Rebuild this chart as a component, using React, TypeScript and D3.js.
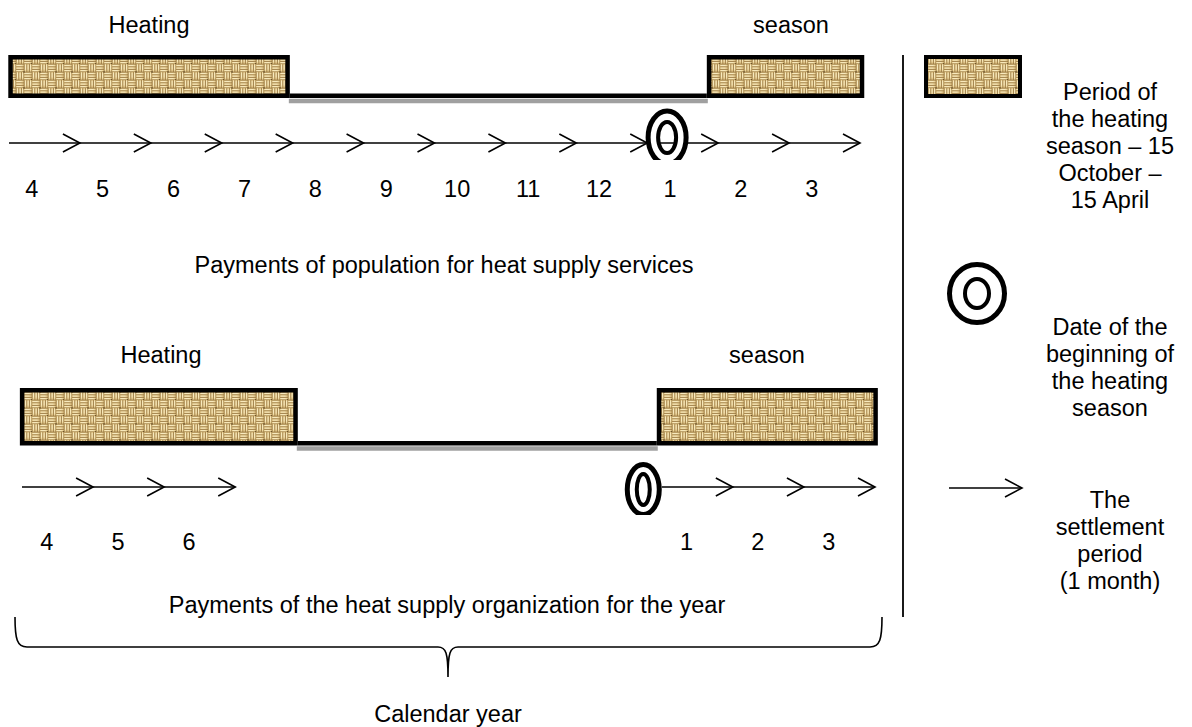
import React from 'react';
import * as d3 from 'd3';

// month labels of the settlement periods, April .. March
const months = ['4', '5', '6', '7', '8', '9', '10', '11', '12', '1', '2', '3'];

// settlement periods shown in each row (month index)
const popPeriods = [0, 1, 2, 3, 4, 5, 6, 7, 8, 9, 10, 11];
const orgPeriods = [0, 1, 2, 9, 10, 11];

// heating season spans, in month index units
const popSeason = [[-0.01, 3.96], [9.84, 12.06]];
const orgSeason = [[-0.03, 3.88], [8.93, 12.04]];

// date of the beginning of the heating season, month index
const popStart = 9.28;
const orgStart = 8.74;

const legendTexts = [
  ['Period of', 'the heating', 'season – 15', 'October –', '15 April'],
  ['Date of the', 'beginning of', 'the heating', 'season'],
  ['The', 'settlement', 'period', '(1 month)'],
];

const W = 1192;
const H = 727;
const FONT = '"Liberation Sans", Arial, sans-serif';
const FS = 23.5;

const Arrow = ({ x1, x2, y }) => (
  <g stroke="#000" fill="none" strokeWidth={1.6}>
    <line x1={x1} x2={x2} y1={y} y2={y} />
    <polyline points={`${x2 - 17},${y - 9} ${x2},${y} ${x2 - 17},${y + 9}`} />
  </g>
);

const Ring = ({ cx, cy, rx, ry, irx, iry, clipId }) => {
  const ring = `M${cx - rx},${cy}a${rx},${ry} 0 1,0 ${2 * rx},0a${rx},${ry} 0 1,0 ${-2 * rx},0Z` +
    `M${cx - irx},${cy}a${irx},${iry} 0 1,0 ${2 * irx},0a${irx},${iry} 0 1,0 ${-2 * irx},0Z`;
  return (
    <g clipPath={clipId ? `url(#${clipId})` : undefined}>
      <path d={ring} fill="#fff" fillRule="evenodd" />
      <ellipse cx={cx} cy={cy} rx={rx} ry={ry} fill="none" stroke="#000" strokeWidth={5} />
      <ellipse cx={cx} cy={cy} rx={irx} ry={iry} fill="none" stroke="#000" strokeWidth={4} />
    </g>
  );
};

const Row = ({ x, periods, season, start, r, ring }) => {
  const bw = 4.5;
  const [a, b] = season;
  return (
    <g>
      {/* off-season line with grey shadow */}
      <line x1={x(a[1]) - 1} x2={x(b[0]) + 1} y1={r.barBottom + 3} y2={r.barBottom + 3} stroke="#a0a0a0" strokeWidth={4.5} />
      <line x1={x(a[1])} x2={x(b[0])} y1={r.barBottom - bw / 2} y2={r.barBottom - bw / 2} stroke="#000" strokeWidth={bw} />
      {season.map((s, i) => (
        <rect key={i} x={x(s[0]) + bw / 2} y={r.barTop + bw / 2}
          width={x(s[1]) - x(s[0]) - bw} height={r.barBottom - r.barTop - bw}
          fill="url(#burlap)" stroke="#000" strokeWidth={bw} />
      ))}
      {periods.map(i => (
        <Arrow key={i} x1={x(i)} x2={x(i + 1)} y={r.arrowY} />
      ))}
      {periods.map(i => (
        <text key={'t' + i} x={x(i + r.labelOff)} y={r.labelY} textAnchor="middle">{months[i]}</text>
      ))}
      <Ring cx={x(start)} cy={r.ringY} {...ring} clipId={r.clip} />
      <text x={r.heatX} y={r.titleY} textAnchor="middle">Heating</text>
      <text x={r.seasonX} y={r.titleY} textAnchor="middle">season</text>
    </g>
  );
};

// basket weave strands for the burlap texture: [x, y, w, h]
const strands = [
  [0, 0.6, 7.6, 1.8], [0, 3.2, 7.6, 1.8], [0, 5.8, 7.6, 1.6],
  [8.6, 0, 1.8, 7.6], [11.2, 0, 1.8, 7.6], [13.8, 0, 1.6, 7.6],
  [0.6, 8, 1.8, 7.6], [3.2, 8, 1.8, 7.6], [5.8, 8, 1.6, 7.6],
  [8, 8.6, 7.6, 1.8], [8, 11.2, 7.6, 1.8], [8, 13.8, 7.6, 1.6],
];

export default function App() {
  const xTop = d3.scaleLinear().domain([0, 12]).range([9, 860]);
  const xBot = d3.scaleLinear().domain([0, 12]).range([22, 875]);

  const topRow = { barTop: 55, barBottom: 98, arrowY: 143, labelY: 197, labelOff: 0.32, ringY: 137.5, clip: 'clipTop', heatX: 149, seasonX: 791, titleY: 33 };
  const botRow = { barTop: 388, barBottom: 445.5, arrowY: 487, labelY: 550, labelOff: 0.35, ringY: 489.5, clip: 'clipBot', heatX: 161, seasonX: 767, titleY: 363 };

  // curly brace under the calendar year
  const brace = d3.path();
  const bl = 15, br = 882, bc = 448, bt = 617, bm = 647, bp = 677;
  brace.moveTo(bl, bt);
  brace.bezierCurveTo(bl, bm - 8, bl + 2, bm, bl + 12, bm);
  brace.lineTo(bc - 10, bm);
  brace.bezierCurveTo(bc - 2, bm, bc, bm + 6, bc, bp);
  brace.moveTo(bc, bp);
  brace.bezierCurveTo(bc, bm + 6, bc + 2, bm, bc + 10, bm);
  brace.lineTo(br - 12, bm);
  brace.bezierCurveTo(br - 2, bm, br, bm - 8, br, bt);

  const lx = 1110;
  const legendY = [100, 335, 508];

  return (
    <svg width={W} height={H} style={{ position: 'absolute', left: 0, top: 0, background: '#fff' }}
      fontFamily={FONT} fontSize={FS} fill="#000">
      <defs>
        <pattern id="burlap" width="16" height="16" patternUnits="userSpaceOnUse">
          <rect width="16" height="16" fill="#97763f" />
          {strands.map((s, i) => (
            <g key={i}>
              <rect x={s[0]} y={s[1]} width={s[2]} height={s[3]} fill={i % 3 === 1 ? '#e0c487' : '#eed79c'} />
              <rect x={s[0] + (s[2] > s[3] ? 1 : 0.5)} y={s[1] + (s[2] > s[3] ? 0.5 : 1)}
                width={s[2] > s[3] ? s[2] - 3 : 0.8} height={s[2] > s[3] ? 0.8 : s[3] - 3} fill="#fbf0c8" />
            </g>
          ))}
          <rect x="7.4" y="7.4" width="1.2" height="1.2" fill="#4a3416" />
          <rect x="15.2" y="15.2" width="0.8" height="0.8" fill="#4a3416" />
        </pattern>
        <clipPath id="clipTop"><rect x="0" y="0" width={W} height="160" /></clipPath>
        <clipPath id="clipBot"><rect x="0" y="0" width={W} height="515" /></clipPath>
      </defs>

      <Row x={xTop} periods={popPeriods} season={popSeason} start={popStart} r={topRow}
        ring={{ rx: 19, ry: 26.5, irx: 9, iry: 15.5 }} />
      <text x={444} y={273} textAnchor="middle">Payments of population for heat supply services</text>

      <Row x={xBot} periods={orgPeriods} season={orgSeason} start={orgStart} r={botRow}
        ring={{ rx: 16, ry: 25, irx: 6.5, iry: 15.5 }} />
      <text x={447} y={613} textAnchor="middle">Payments of the heat supply organization for the year</text>

      <path d={brace.toString()} fill="none" stroke="#000" strokeWidth={1.6} />
      <text x={448} y={722} textAnchor="middle">Calendar year</text>

      {/* legend */}
      <line x1={903} x2={903} y1={55} y2={617} stroke="#000" strokeWidth={1.8} />
      <rect x={926} y={57} width={94} height={39} fill="url(#burlap)" stroke="#000" strokeWidth={4} />
      <Ring cx={977} cy={293.5} rx={27.5} ry={29} irx={12} iry={14.5} />
      <Arrow x1={949} x2={1022} y={488} />
      {legendTexts.map((lines, k) => (
        <text key={k} x={lx} y={legendY[k]} textAnchor="middle">
          {lines.map((l, j) => (
            <tspan key={j} x={lx} dy={j === 0 ? 0 : 27}>{l}</tspan>
          ))}
        </text>
      ))}
    </svg>
  );
}
